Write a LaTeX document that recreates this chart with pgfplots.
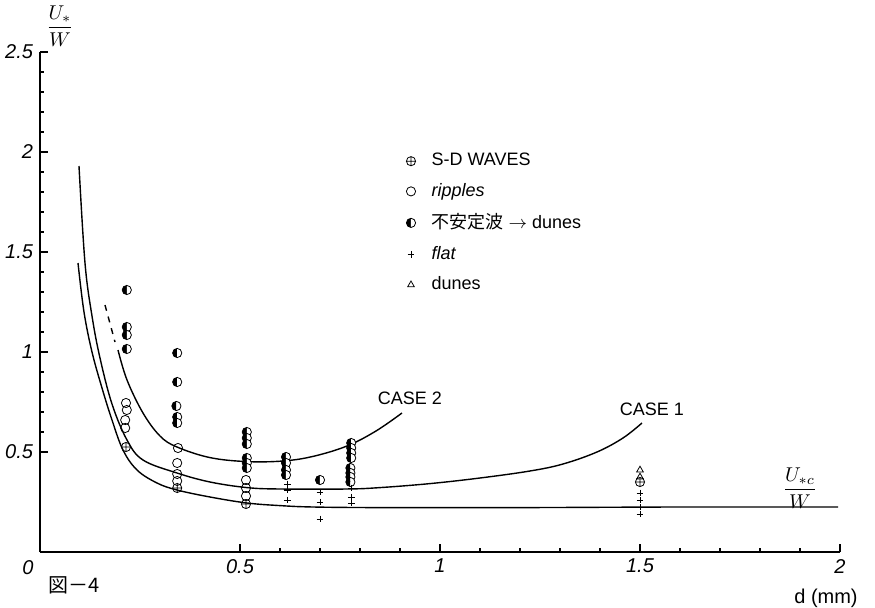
\documentclass[border=0pt]{standalone}
\usepackage{pgfplots}
\pgfplotsset{compat=1.18}
\usetikzlibrary{plotmarks}
\usepackage{fontspec}
\setmainfont{Liberation Sans}
\newfontfamily\cjk{Noto Sans CJK JP}
\begin{document}
\begin{tikzpicture}[x=1pt,y=1pt]
\useasboundingbox (-20,-27.5) rectangle (417.5,276);
\begin{axis}[
  at={(0,0)}, anchor=south west,
  width=400pt, height=250pt, scale only axis,
  xmin=0, xmax=2, ymin=0, ymax=2.5,
  axis lines=left, axis line style={-, line width=0.8pt},
  xtick={0.5,1,1.5,2}, ytick={0.5,1,1.5,2,2.5},
  xticklabels={0.5,1,1.5,2}, yticklabels={0.5,1,1.5,2,2.5},
  minor x tick num=4, minor y tick num=4,
  tick align=inside,
  major tick length=4pt, minor tick length=2pt,
  tick style={black, line width=0.6pt},
  ticklabel style={font=\itshape},
  clip=false,
  legend style={at={(axis cs:0.90,2.035)}, anchor=north west, draw=none, fill=none,
    font=\small, cells={anchor=west}, row sep=3.2pt,
    /tikz/every odd column/.append style={column sep=6pt}},
  legend cell align=left,
]
% --- data
\addplot[only marks, mark=oplus, mark size=2.3pt, black, mark options={fill=black!15}] coordinates {
 (0.215,0.525) (0.343,0.32) (0.515,0.24) (1.5,0.35)};
\addlegendentry{S-D WAVES}
\addplot[only marks, mark=o, mark size=2.3pt, black] coordinates {
 (0.215,0.745) (0.217,0.71) (0.213,0.66) (0.213,0.62)
 (0.345,0.52) (0.343,0.445) (0.343,0.39) (0.343,0.355)
 (0.515,0.36) (0.515,0.32) (0.515,0.28)};
\addlegendentry{\itshape ripples}
\addplot[only marks, mark=halfcircle*, mark size=2.3pt, black, mark options={rotate=90, fill=black}] coordinates {
 (0.217,1.31) (0.217,1.125) (0.217,1.085) (0.217,1.015)
 (0.343,0.995) (0.343,0.85) (0.341,0.73) (0.343,0.675) (0.343,0.645)
 (0.517,0.60) (0.517,0.57) (0.517,0.54) (0.517,0.47) (0.517,0.445) (0.517,0.42)
 (0.615,0.475) (0.615,0.445) (0.615,0.41) (0.615,0.385)
 (0.70,0.36)
 (0.778,0.545) (0.778,0.52) (0.778,0.495) (0.778,0.47)
 (0.776,0.42) (0.776,0.395) (0.776,0.375) (0.776,0.35)};
\addlegendentry{{\cjk 不安定波} $\rightarrow$ dunes}
\addplot[only marks, mark=+, mark size=1.7pt, black] coordinates {
 (0.618,0.34) (0.618,0.31) (0.618,0.26)
 (0.70,0.30) (0.70,0.25) (0.70,0.165)
 (0.778,0.32) (0.778,0.275) (0.778,0.245)
 (1.5,0.295) (1.5,0.26) (1.5,0.225) (1.5,0.19)};
\addlegendentry{\itshape flat}
\addplot[only marks, mark=triangle, mark size=1.9pt, black] coordinates {
 (1.5,0.41) (1.5,0.375)};
\addlegendentry{dunes}
% --- curves
\addplot[black, line width=0.7pt, smooth, tension=0.6, forget plot] coordinates {
 (0.095,1.445) (0.11,1.2) (0.13,1.0) (0.155,0.82) (0.18,0.66) (0.2075,0.51)
 (0.2425,0.41) (0.2925,0.345) (0.3425,0.31) (0.425,0.275) (0.5175,0.245)
 (0.6,0.232) (0.6825,0.225) (0.85,0.222) (1.2,0.222) (1.6,0.225) (1.995,0.225)};
\addplot[black, line width=0.7pt, smooth, tension=0.6, forget plot] coordinates {
 (0.0975,1.93) (0.1125,1.445) (0.13,1.18) (0.15,0.97) (0.18,0.74) (0.2175,0.56)
 (0.2575,0.46) (0.3425,0.395) (0.425,0.35) (0.5175,0.322) (0.6,0.315)
 (0.7675,0.315) (0.85,0.322) (0.975,0.342) (1.1,0.37) (1.225,0.405)
 (1.3075,0.44) (1.3925,0.5) (1.4575,0.57) (1.505,0.645)};
\addplot[black, line width=0.7pt, smooth, tension=0.6, forget plot] coordinates {
 (0.195,1.01) (0.2175,0.86) (0.2575,0.695) (0.3,0.58) (0.3425,0.525)
 (0.425,0.472) (0.5175,0.452) (0.6075,0.455) (0.6825,0.478) (0.7675,0.53)
 (0.84,0.605) (0.905,0.695)};
\addplot[black, line width=0.7pt, dashed, forget plot] coordinates {
 (0.1625,1.235) (0.1875,1.05)};
% --- labels
\node[font=\small] at (axis cs:0.925,0.77) {CASE 2};
\node[font=\small] at (axis cs:1.53,0.715) {CASE 1};
\node at (axis cs:1.9,0.32) {$\displaystyle\frac{U_{*c}}{W}$};
\node at (axis cs:0.05,2.63) {$\displaystyle\frac{U_{*}}{W}$};
\node[font=\itshape] at (axis cs:-0.03,-0.08) {0};
\node at (axis cs:1.965,-0.23) {d (mm)};
\node at (axis cs:0.085,-0.165) {\cjk 図－4};
\end{axis}
\end{tikzpicture}
\end{document}
